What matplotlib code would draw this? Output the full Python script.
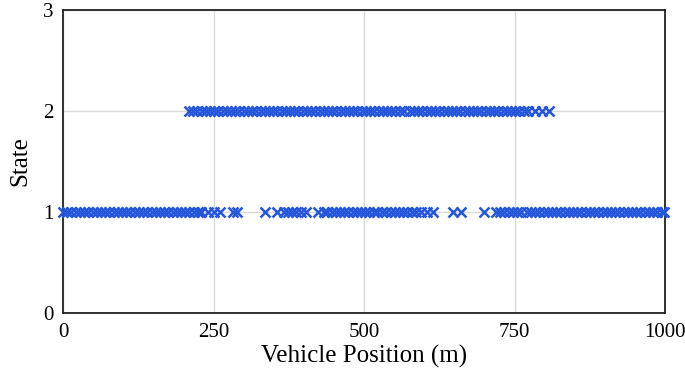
import matplotlib
matplotlib.use("Agg")
import matplotlib.pyplot as plt

# State 1 vehicle positions (m)
state1_pos = [0, 7, 14, 21, 28, 35, 42, 49, 56, 63, 70, 77, 84, 91, 98, 105, 112, 119,
              126, 133, 140, 147, 154, 161, 168, 175, 182, 189, 196, 203, 210, 217, 224,
              229, 241, 251, 261, 282, 289, 336, 355, 367, 374, 380, 387, 395, 404, 424,
              433, 439, 446, 453, 460, 467, 474, 481, 488, 495, 502, 509, 516, 522, 530,
              537, 544, 551, 558, 565, 572, 579, 586, 595, 605, 615, 648, 661, 699, 719,
              726, 733, 740, 747, 754, 761, 771, 777, 784, 791, 798, 805, 812, 819, 826,
              833, 840, 847, 854, 861, 868, 875, 882, 889, 896, 903, 910, 917, 924, 931,
              938, 945, 952, 959, 966, 973, 980, 987, 994, 998]
# State 2 vehicle positions (m)
state2_pos = [209, 216, 223, 230, 237, 244, 251, 258, 265, 272, 279, 286, 293, 300, 307,
              314, 321, 328, 335, 342, 349, 356, 363, 370, 377, 384, 391, 398, 405, 412,
              419, 426, 433, 440, 447, 454, 461, 468, 475, 482, 489, 496, 503, 510, 517,
              524, 531, 538, 545, 552, 559, 566, 576, 583, 590, 597, 604, 611, 618, 625,
              632, 639, 646, 653, 660, 667, 674, 681, 688, 695, 702, 709, 716, 723, 730,
              737, 744, 751, 758, 765, 772, 784, 796, 807]
state1_val = [1] * len(state1_pos)
state2_val = [2] * len(state2_pos)

x_ticks = [0, 250, 500, 750, 1000]
y_ticks = [0, 1, 2, 3]

plt.rcParams['font.family'] = ['Liberation Serif', 'DejaVu Serif']

fig = plt.figure(figsize=(6.85, 3.77), dpi=100)
ax = fig.add_axes([0.092, 0.170, 0.879, 0.803])

color = '#2456DC'
ax.plot(state1_pos, state1_val, linestyle='none', marker='x', markersize=6.5,
        markeredgewidth=1.8, color=color, clip_on=False, zorder=3)
ax.plot(state2_pos, state2_val, linestyle='none', marker='x', markersize=6.5,
        markeredgewidth=1.8, color=color, clip_on=False, zorder=3)

ax.set_xlim(0, 1000)
ax.set_ylim(0, 3)
ax.set_xticks(x_ticks)
ax.set_yticks(y_ticks)
ax.grid(True, color='#D9D9D9', linewidth=1.0, zorder=0)
ax.set_axisbelow(True)
ax.tick_params(length=0, labelsize=15, pad=7)
for s in ax.spines.values():
    s.set_linewidth(1.3)
    s.set_color('#222222')

ax.set_xlabel('Vehicle Position (m)', fontsize=18, labelpad=2)
ax.set_ylabel('State', fontsize=18, labelpad=8)

fig.savefig('out.png', dpi=100)
